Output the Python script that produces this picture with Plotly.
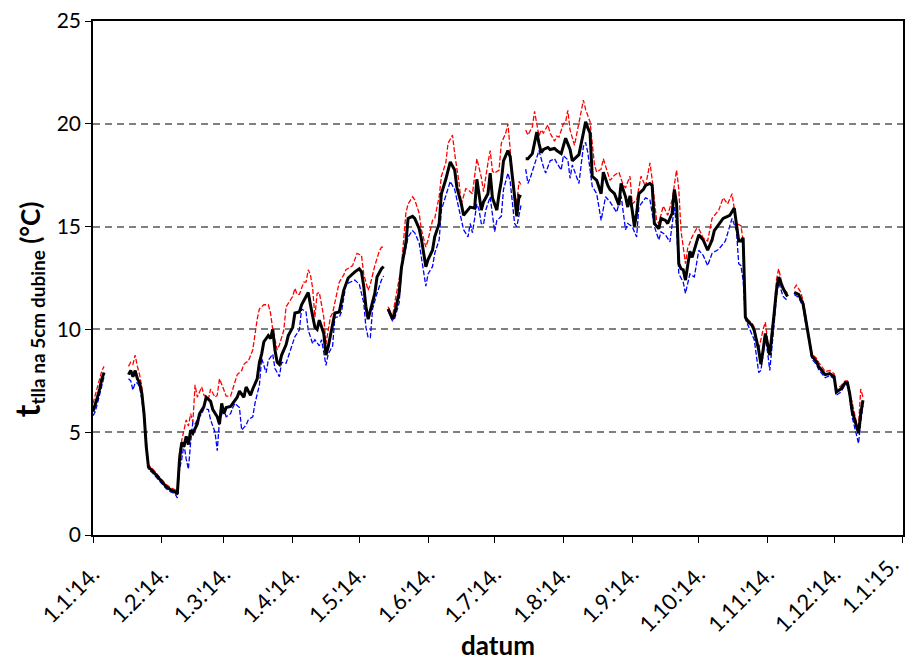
import pandas as pd
import plotly.graph_objects as go

# day offsets from 1 Jan 2014; None marks a gap in the record
mean_days = [0,1,2,3,4,5,10,
    16,17,18,19,20,21,22,23,24,25,27,30,33,35,37,38,39,40,41,42,43,44,45,47,48,50,51,53,54,56,57,58,59,60,62,63,65,66,68,69,71,72,74,75,76,77,78,79,80,81,82,83,84,85,87,88,90,91,93,94,96,97,98,99,100,101,102,104,105,106,108,109,111,112,113,115,118,120,121,122,123,124,125,127,128,130,131,132,
    133,135,136,138,139,141,142,144,145,147,148,150,151,153,154,156,157,159,161,163,164,166,167,169,170,172,173,175,176,178,179,180,182,183,184,185,187,188,189,190,191,192,193,194,
    195,196,198,200,201,202,203,205,206,208,209,211,213,214,215,216,218,219,221,222,223,224,225,227,229,230,232,233,235,237,238,240,241,242,243,244,245,246,248,249,251,252,253,255,256,258,259,261,262,263,264,265,266,267,269,270,273,275,277,279,280,282,284,286,287,289,290,291,292,293,294,295,297,298,300,301,302,303,304,305,307,308,309,311,313,314,
    316,318,320,321,323,324,326,327,330,332,334,335,337,339,340,341,342,344,345,346,347]
mean_vals = [6.0,6.3,6.7,7.1,7.6,7.9,None,
    7.8,8.0,7.7,8.0,7.6,7.4,6.9,5.9,4.3,3.3,3.1,2.7,2.35,2.2,2.1,2.0,3.7,4.5,4.3,4.8,4.4,5.1,4.95,5.4,5.9,6.25,6.7,6.5,6.1,5.75,5.4,6.4,5.9,6.2,6.25,6.4,6.7,7.0,6.7,7.2,6.8,7.1,7.6,8.4,8.8,9.4,9.55,9.7,9.55,10.0,9.0,8.4,8.3,8.75,9.25,9.7,10.1,10.8,10.85,11.2,11.6,11.8,11.2,10.6,10.1,10.0,10.45,9.8,8.75,9.15,10.3,10.8,10.85,11.35,11.9,12.5,12.8,12.95,12.8,12.1,11.1,10.5,10.9,11.75,12.55,12.95,13.05,None,
    11.0,10.5,10.8,11.8,13.0,14.2,15.4,15.5,15.4,14.9,14.4,13.05,13.4,13.85,14.5,15.15,16.6,17.3,18.15,17.75,16.9,16.1,15.55,15.8,15.95,15.9,17.3,15.8,16.2,16.6,17.6,16.4,15.8,16.6,17.2,18.2,18.7,18.4,17.4,16.3,15.5,16.5,16.45,None,
    18.3,18.3,18.55,19.6,19.05,18.6,18.75,18.85,18.75,18.8,18.7,18.55,19.3,19.05,18.75,18.2,18.4,18.5,19.55,20.1,19.8,19.55,17.45,17.25,16.6,17.65,17.0,16.8,16.6,16.05,17.1,16.45,15.95,16.5,15.8,15.0,15.65,16.6,16.8,17.0,17.1,17.0,15.15,14.9,15.4,15.3,15.15,15.65,16.8,16.1,13.2,12.95,12.9,12.4,13.8,13.5,14.6,14.35,13.85,14.35,14.8,15.1,15.4,15.5,15.55,15.9,15.0,14.3,14.3,14.45,10.6,10.4,10.2,9.95,9.0,8.3,9.0,9.8,9.3,8.75,10.8,11.9,12.55,12.0,11.6,None,
    11.8,11.7,11.25,10.6,9.5,8.7,8.45,8.2,7.8,7.85,7.7,6.95,7.1,7.4,7.4,6.9,6.1,5.25,4.95,5.9,6.55]

max_days = [0,1,2,3,4,5,10,
    16,17,18,19,20,21,22,23,24,25,27,30,33,35,37,38,39,40,41,42,43,44,45,46,47,49,50,52,53,55,56,57,59,60,62,63,64,65,67,68,69,70,72,73,74,75,77,79,80,81,83,84,86,87,89,90,91,92,93,94,95,96,97,98,99,100,101,102,104,105,107,108,110,111,113,114,117,119,121,122,124,125,127,128,129,130,131,132,
    133,135,136,139,141,142,144,145,147,148,150,151,153,154,156,157,159,160,162,163,165,166,168,169,171,172,173,175,176,178,179,180,181,183,184,186,187,188,189,190,191,192,193,194,
    195,196,198,199,201,202,203,205,206,208,209,210,212,213,214,215,217,218,219,221,222,224,226,227,229,230,232,233,235,237,239,240,242,243,245,247,249,251,252,254,255,257,259,261,263,264,265,267,268,270,272,273,275,277,279,280,282,284,286,288,290,292,293,294,297,298,300,302,303,304,305,307,308,309,311,313,314,
    316,317,319,320,321,323,324,326,327,330,332,334,335,337,339,340,341,342,344,345,346,347]
max_vals = [6.4,6.8,7.2,7.6,8.0,8.2,None,
    8.2,8.4,8.3,8.75,8.2,7.8,7.2,5.9,4.5,3.4,3.2,2.8,2.45,2.3,2.2,2.1,4.0,4.6,5.1,5.6,5.3,5.9,5.5,7.3,6.7,7.2,6.8,6.6,7.1,6.7,6.8,7.6,7.05,6.75,6.75,7.1,7.4,7.8,8.0,8.3,8.4,8.45,9.0,9.8,10.5,11.0,11.2,11.2,10.8,10.0,9.0,9.24,9.97,11.1,11.4,11.6,12.0,11.7,11.7,12.0,12.3,12.3,12.9,12.65,12.0,10.6,11.75,11.8,10.6,9.3,10.6,10.8,11.75,12.3,12.65,12.9,13.1,13.7,13.6,12.7,11.9,12.2,13.1,13.5,13.8,14.0,14.0,None,
    11.1,10.6,11.3,13.05,15.65,16.1,16.45,16.3,15.65,14.85,14.0,14.35,15.3,15.4,16.45,17.45,18.1,19.05,19.45,18.55,17.1,16.1,16.85,16.8,16.6,17.5,18.3,17.4,16.7,18.1,18.7,17.7,17.6,17.75,19.05,19.55,20.0,18.75,17.45,16.6,16.1,17.2,17.0,None,
    19.7,19.45,19.85,20.6,19.4,19.7,19.55,19.95,19.55,19.15,19.4,19.35,20.0,20.1,20.65,19.7,18.95,19.5,20.2,21.15,20.7,20.1,18.0,17.65,17.8,18.3,17.6,17.25,17.5,17.65,17.0,16.9,17.45,16.1,16.3,17.45,16.95,18.1,17.3,15.3,15.15,16.0,15.55,16.3,17.75,16.8,14.8,13.2,13.95,14.5,14.9,14.9,14.45,14.3,15.4,15.55,15.8,16.4,16.1,16.6,15.15,15.05,14.3,10.6,10.3,10.1,9.0,10.0,10.35,9.5,9.0,11.0,12.4,12.95,12.0,11.75,None,
    12.0,12.15,11.8,11.4,10.8,9.6,8.8,8.6,8.4,7.95,8.0,7.85,7.1,7.25,7.5,7.5,7.0,6.4,5.5,5.3,7.1,6.7]

min_days = [0,1,2,3,4,5,10,
    16,17,18,19,20,21,22,23,24,25,27,30,33,35,37,38,39,40,41,42,43,44,45,46,47,49,50,52,53,55,56,57,59,60,62,63,64,66,67,69,70,72,73,75,76,78,79,81,82,84,85,87,88,90,91,93,94,96,97,99,100,102,103,105,106,108,109,111,112,114,116,118,120,122,123,124,125,126,128,130,131,132,
    133,135,136,138,139,141,142,144,145,147,148,150,151,153,154,156,157,159,161,163,164,166,167,169,170,171,173,174,175,176,177,179,180,181,182,184,185,187,188,189,190,191,193,194,
    195,196,197,200,201,203,204,206,208,209,211,212,214,215,216,219,221,222,223,225,227,229,231,233,236,238,240,241,243,245,246,249,251,253,255,256,258,260,262,263,264,266,267,269,271,273,275,277,279,282,285,288,290,291,292,293,294,296,298,300,301,302,303,304,305,307,308,309,311,313,314,
    316,318,320,321,323,324,326,327,330,332,334,335,337,339,340,341,342,344,345,346,347]
min_vals = [5.8,6.0,6.4,6.8,7.3,7.7,None,
    7.6,7.5,7.05,7.4,7.4,7.2,6.6,5.7,4.4,3.2,3.0,2.6,2.25,2.1,2.0,1.8,3.2,3.7,4.4,3.7,3.2,4.5,5.5,5.4,5.6,5.9,6.15,6.1,5.6,5.0,4.1,5.6,6.1,5.75,5.9,6.2,6.4,6.2,5.1,5.35,5.6,5.75,6.4,7.3,8.6,7.9,8.5,8.8,8.1,7.7,8.4,8.35,8.7,9.3,9.65,9.97,11.0,10.85,9.97,9.3,9.5,9.2,9.5,8.25,8.8,9.2,10.6,10.6,10.85,12.2,12.3,12.4,12.2,11.3,10.1,9.6,9.6,11.0,11.75,12.4,12.6,None,
    10.9,10.4,10.55,11.3,12.9,14.0,14.5,14.8,14.7,14.2,13.55,12.1,12.7,13.05,13.7,14.35,15.8,16.45,17.2,16.8,16.3,15.3,14.85,14.5,15.15,14.7,16.1,15.8,15.15,15.1,15.8,16.45,15.65,14.75,15.3,15.5,16.8,17.6,17.2,16.1,15.15,15.0,16.1,None,
    17.8,17.1,17.35,18.3,18.7,17.9,17.6,18.2,18.3,18.1,17.75,18.45,18.25,17.35,18.0,17.1,18.9,19.1,18.6,16.95,16.6,15.3,16.45,16.2,15.7,16.5,14.85,15.15,15.0,14.5,15.95,16.4,16.3,15.0,14.35,14.75,14.6,14.25,15.95,15.0,12.7,12.3,11.75,12.7,12.55,13.85,13.6,13.1,13.7,13.9,14.3,15.4,14.8,13.2,13.1,12.4,10.5,10.0,9.5,7.9,8.0,8.8,9.6,8.9,8.0,10.3,11.6,12.3,11.6,11.4,None,
    11.7,11.55,11.1,10.4,9.3,8.55,8.3,8.05,7.65,7.75,7.6,6.8,6.95,7.3,7.3,6.7,5.8,4.9,4.45,5.5,6.3]

tick_labels = ["1.1.'14.", "1.2.'14.", "1.3.'14.", "1.4.'14.", "1.5.'14.", "1.6.'14.",
               "1.7.'14.", "1.8.'14.", "1.9.'14.", "1.10.'14.", "1.11.'14.", "1.12.'14.", "1.1.'15."]

base = pd.Timestamp("2014-01-01")
def to_dates(days):
    return [base + pd.Timedelta(days=d) for d in days]

tick_vals = [pd.Timestamp(2014, m, 1) for m in range(1, 13)] + [pd.Timestamp(2015, 1, 1)]
x_range = [pd.Timestamp("2014-01-01 00:00"), pd.Timestamp("2015-01-01 01:00")]

# the last label sits at the page edge, so it is drawn as an annotation kept inside the page
axis_ticktext = tick_labels[:-1] + [""]

fig = go.Figure()
fig.add_trace(go.Scatter(x=to_dates(max_days), y=max_vals, mode="lines",
                         line=dict(color="#ff0000", width=1.3, dash="5px,2px"), name="max"))
fig.add_trace(go.Scatter(x=to_dates(min_days), y=min_vals, mode="lines",
                         line=dict(color="#0000ff", width=1.3, dash="5px,2px"), name="min"))
fig.add_trace(go.Scatter(x=to_dates(mean_days), y=mean_vals, mode="lines",
                         line=dict(color="#000000", width=3), name="sred"))

font_family = "Lato, Carlito, 'Open Sans', sans-serif"
fig.update_layout(
    width=907, height=661,
    margin=dict(l=93, r=4, t=21, b=126, autoexpand=False),
    paper_bgcolor="white", plot_bgcolor="white",
    showlegend=False,
    font=dict(family=font_family, color="black", size=20),
    xaxis=dict(
        type="date", range=x_range, automargin=False,
        tickmode="array", tickvals=tick_vals, ticktext=axis_ticktext,
        tickangle=-45, tickfont=dict(size=22), ticklabelstandoff=10,
        ticks="outside", ticklen=6, tickwidth=1.3, tickcolor="black",
        showline=True, linecolor="black", linewidth=1.5, mirror=True,
        showgrid=False, zeroline=False,
        title=dict(text="<b>datum</b>", font=dict(size=26), standoff=4),
    ),
    yaxis=dict(
        range=[0, 25], tickmode="linear", tick0=0, dtick=5, automargin=False,
        tickfont=dict(size=21),
        ticks="outside", ticklen=6, tickwidth=1.3, tickcolor="black",
        showline=True, linecolor="black", linewidth=1.5, mirror=True,
        showgrid=True, gridcolor="#808080", gridwidth=1.5, griddash="7px,5px",
        zeroline=False,
    ),
    annotations=[
        dict(
            text="<b><span style='font-size:34px'>t</span><sub><span style='font-size:19px'>tlla na 5cm dubine</span></sub> (°C)</b>",
            xref="paper", yref="paper", x=-0.081, y=0.44,
            xanchor="center", yanchor="middle", textangle=-90,
            showarrow=False, font=dict(size=26, family=font_family),
        ),
        dict(
            text=tick_labels[-1], xref="paper", yref="paper", x=1, y=0,
            xanchor="right", yanchor="top", xshift=2, yshift=-14,
            textangle=-45, showarrow=False, borderpad=0,
            font=dict(size=22, family=font_family),
        ),
    ],
)

fig.write_html("out.html")
